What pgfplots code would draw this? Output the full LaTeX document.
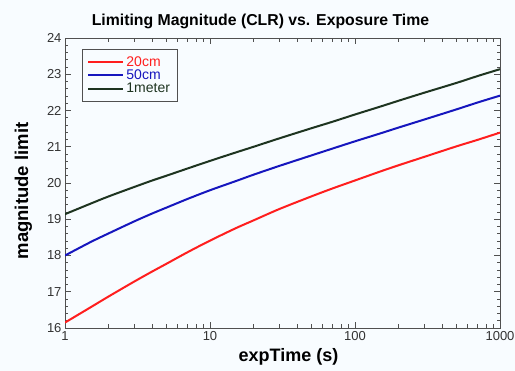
\documentclass[border=0pt]{standalone}
\usepackage{pgfplots}
\pgfplotsset{compat=1.18}
\usetikzlibrary{backgrounds}
\usepackage{fontspec}
\setmainfont{Liberation Sans}
\definecolor{bgc}{RGB}{248,252,255}
\definecolor{cred}{RGB}{255,30,30}
\definecolor{cblue}{RGB}{22,22,190}
\definecolor{cgreen}{RGB}{30,52,32}
\definecolor{axc}{RGB}{80,80,80}
\begin{document}
\begin{tikzpicture}
\useasboundingbox (0,0) rectangle (515pt,371pt);
\begin{axis}[
  at={(65pt,43pt)}, anchor=south west,
  scale only axis, width=435pt, height=290pt,
  xmode=log, xmin=1, xmax=1000, ymin=16, ymax=24,
  xtick={1,10,100,1000}, xticklabels={1,10,100,1000},
  minor xtick={2,3,4,5,6,7,8,9,20,30,40,50,60,70,80,90,200,300,400,500,600,700,800,900},
  ytick={16,17,...,24},
  minor ytick={16.2,16.4,...,23.9},
  major tick length=6pt, minor tick length=3.5pt,
  tick style={axc, line width=0.8pt},
  axis line style={axc, line width=0.9pt},
  /pgf/number format/assume math mode=true,
  tick label style={font=\fontsize{13}{15}\selectfont, text=black!80},
  title={\textbf{Limiting Magnitude (CLR) vs. Exposure Time}},
  title style={font=\fontsize{15.8}{18}\selectfont, xshift=-22pt},
  xlabel={\textbf{expTime (s)}},
  ylabel={\textbf{magnitude limit}},
  xlabel style={font=\fontsize{18}{20}\selectfont, yshift=-1pt, xshift=6pt},
  ylabel style={font=\fontsize{18.5}{20}\selectfont, yshift=8pt, xshift=-8pt},
  legend style={at={(0,1)}, anchor=north west, xshift=17pt, yshift=-11pt,
    draw=axc, line width=0.9pt, fill=bgc, font=\fontsize{14}{13}\selectfont,
    inner xsep=5pt, inner ysep=5pt, row sep=-2pt},
  legend cell align=left,
  legend image code/.code={\draw[#1, line width=2pt] (0pt,0pt) -- (35pt,0pt);},
]
\addplot[cred, line width=2pt, smooth] coordinates {
(1,16.15) (1.5,16.57) (2,16.87) (3,17.28) (4,17.56) (5,17.77) (7,18.09) (10,18.41) (15,18.75) (20,18.97) (30,19.28) (50,19.63) (70,19.85) (100,20.07) (150,20.32) (200,20.49) (300,20.72) (500,21.01) (700,21.19) (1000,21.39)};
\addlegendentry{\textcolor{cred}{20cm}}
\addplot[cblue, line width=2pt, smooth] coordinates {
(1,18.00) (1.5,18.37) (2,18.61) (3,18.94) (4,19.16) (5,19.32) (7,19.56) (10,19.80) (15,20.05) (20,20.23) (30,20.47) (50,20.76) (70,20.95) (100,21.15) (150,21.37) (200,21.53) (300,21.75) (500,22.03) (700,22.22) (1000,22.41)};
\addlegendentry{\textcolor{cblue}{50cm}}
\addplot[cgreen, line width=2pt, smooth] coordinates {
(1,19.14) (1.5,19.43) (2,19.63) (3,19.89) (4,20.07) (5,20.20) (7,20.40) (10,20.61) (15,20.84) (20,21.00) (30,21.23) (50,21.51) (70,21.69) (100,21.89) (150,22.11) (200,22.27) (300,22.49) (500,22.76) (700,22.95) (1000,23.14)};
\addlegendentry{\textcolor{cgreen}{1meter}}
\end{axis}
\begin{scope}[on background layer]
\fill[bgc] (0,0) rectangle (515pt,371pt);
\end{scope}
\end{tikzpicture}
\end{document}
